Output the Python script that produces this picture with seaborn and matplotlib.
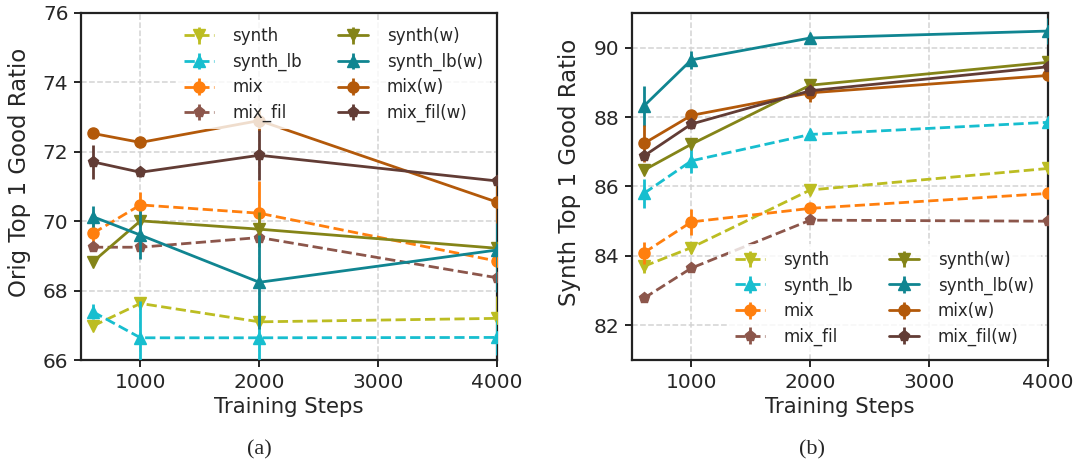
import numpy as np
import pandas as pd
import matplotlib
matplotlib.use("Agg")
import matplotlib.pyplot as plt
import matplotlib.colors as mcolors
import seaborn as sns
from matplotlib.container import ErrorbarContainer
from matplotlib.lines import Line2D
from matplotlib.collections import LineCollection

# ---------------- data ----------------
steps = [600, 1000, 2000, 4000]
series_names = ["synth", "synth_lb", "mix", "mix_fil",
                "synth(w)", "synth_lb(w)", "mix(w)", "mix_fil(w)"]

# (a) Orig Top 1 Good Ratio
orig_synth = [66.98, 67.63, 67.10, 67.20]
orig_synth_lb = [67.39, 66.64, 66.64, 66.65]
orig_mix = [69.65, 70.47, 70.23, 68.85]
orig_mix_fil = [69.25, 69.25, 69.53, 68.37]
orig_synth_w = [68.83, 70.01, 69.77, 69.22]
orig_synth_lb_w = [70.13, 69.60, 68.24, 69.17]
orig_mix_w = [72.53, 72.27, 72.90, 70.55]
orig_mix_fil_w = [71.71, 71.41, 71.90, 71.16]

orig_err_synth = [0.10, 0.15, 0.10, 0.65]
orig_err_synth_lb = [0.22, 1.05, 0.70, 0.50]
orig_err_mix = [0.30, 0.36, 0.92, 0.30]
orig_err_mix_fil = [0.10, 0.10, 0.10, 0.10]
orig_err_synth_w = [0.10, 0.10, 0.50, 0.10]
orig_err_synth_lb_w = [0.30, 0.70, 1.35, 1.20]
orig_err_mix_w = [0.10, 0.10, 0.30, 0.60]
orig_err_mix_fil_w = [0.48, 0.15, 0.72, 0.10]

# (b) Synth Top 1 Good Ratio
syn_synth = [83.70, 84.24, 85.90, 86.52]
syn_synth_lb = [85.80, 86.74, 87.50, 87.85]
syn_mix = [84.09, 84.98, 85.37, 85.80]
syn_mix_fil = [82.78, 83.65, 85.03, 85.00]
syn_synth_w = [86.47, 87.22, 88.92, 89.58]
syn_synth_lb_w = [88.32, 89.65, 90.28, 90.48]
syn_mix_w = [87.24, 88.05, 88.70, 89.20]
syn_mix_fil_w = [86.88, 87.80, 88.76, 89.45]

syn_err_synth = [0.20, 0.15, 0.10, 0.10]
syn_err_synth_lb = [0.42, 0.36, 0.10, 0.10]
syn_err_mix = [0.32, 0.38, 0.10, 0.10]
syn_err_mix_fil = [0.05, 0.05, 0.05, 0.05]
syn_err_synth_w = [0.10, 0.10, 0.10, 0.10]
syn_err_synth_lb_w = [0.59, 0.25, 0.10, 0.38]
syn_err_mix_w = [0.52, 0.10, 0.26, 0.10]
syn_err_mix_fil_w = [0.10, 0.15, 0.10, 0.10]

xticks = [1000, 2000, 3000, 4000]
yticks_a = [66, 68, 70, 72, 74, 76]
yticks_b = [82, 84, 86, 88, 90]

# ---------------- style ----------------
base_colors = ["#bcbd22", "#17becf", "#ff7f0e", "#8c564b"]
def darker(c, f=0.7):
    r, g, b = mcolors.to_rgb(c)
    return (r * f, g * f, b * f)
colors = base_colors + [darker(c) for c in base_colors]
markers = ["v", "^", "o", "p"] * 2
linestyles = ["--"] * 4 + ["-"] * 4

sns.set_theme(style="whitegrid")
plt.rcParams["font.family"] = ["DejaVu Sans"]

LW = 2.0
MS = 8

fig = plt.figure(figsize=(10.82, 4.68), dpi=100)
ax_a = fig.add_axes([81 / 1082, 1 - 360 / 468, 416 / 1082, 347 / 468])
ax_b = fig.add_axes([632 / 1082, 1 - 360 / 468, 416 / 1082, 347 / 468])

panels = [
    (ax_a,
     [orig_synth, orig_synth_lb, orig_mix, orig_mix_fil,
      orig_synth_w, orig_synth_lb_w, orig_mix_w, orig_mix_fil_w],
     [orig_err_synth, orig_err_synth_lb, orig_err_mix, orig_err_mix_fil,
      orig_err_synth_w, orig_err_synth_lb_w, orig_err_mix_w, orig_err_mix_fil_w],
     "Orig Top 1 Good Ratio", (66, 76), yticks_a, "upper right", "(a)", 259, 31),
    (ax_b,
     [syn_synth, syn_synth_lb, syn_mix, syn_mix_fil,
      syn_synth_w, syn_synth_lb_w, syn_mix_w, syn_mix_fil_w],
     [syn_err_synth, syn_err_synth_lb, syn_err_mix, syn_err_mix_fil,
      syn_err_synth_w, syn_err_synth_lb_w, syn_err_mix_w, syn_err_mix_fil_w],
     "Synth Top 1 Good Ratio", (81, 91), yticks_b, "lower right", "(b)", 812, 581),
]

for ax, vals, errs, ylabel, ylim, yticks, legloc, cap, capx, ylx in panels:
    handles = []
    for i, name in enumerate(series_names):
        c = colors[i]
        df = pd.DataFrame({"step": steps, "value": vals[i]})
        sns.lineplot(data=df, x="step", y="value", ax=ax, color=c,
                     marker=markers[i], linestyle=linestyles[i], lw=LW,
                     markersize=MS, markeredgecolor=c, markeredgewidth=1,
                     errorbar=None, legend=False, zorder=3 + i)
        ax.errorbar(steps, vals[i], yerr=errs[i], fmt="none", ecolor=c,
                    elinewidth=LW, capsize=0, zorder=3 + i)
        ln = Line2D([], [], color=c, marker=markers[i], linestyle=linestyles[i],
                    lw=LW, markersize=MS, markeredgecolor=c)
        lc = LineCollection([], colors=[c], linewidths=LW)
        handles.append(ErrorbarContainer((ln, (), (lc,)), has_xerr=False,
                                         has_yerr=True, label=name))
    ax.set_xlim(500, 4000)
    ax.set_ylim(*ylim)
    ax.set_xticks(xticks)
    ax.set_yticks(yticks)
    ax.set_xlabel("Training Steps", fontsize=15.3)
    ax.set_ylabel(ylabel, fontsize=16.5)
    # place the y label where the reference has it (right edge / vertical centre)
    x0 = ax.get_position().x0 * 1082
    w = ax.get_position().width * 1082
    ax.yaxis.set_label_coords((ylx - x0) / w, (360 - 172) / 347)
    ax.tick_params(axis="both", labelsize=14.5, length=5, width=1.2,
                   color="black", bottom=True, left=True, pad=4)
    ax.grid(True, linestyle="--", color="#d3d3d3", linewidth=1.1)
    ax.set_axisbelow(True)
    for sp in ax.spines.values():
        sp.set_color("#222222")
        sp.set_linewidth(1.6)
    leg = ax.legend(handles=handles, labels=series_names, loc=legloc, ncol=2,
                    fontsize=12, frameon=True, framealpha=0.8,
                    handlelength=1.8, handletextpad=1.1, columnspacing=2.2,
                    labelspacing=0.45, borderaxespad=0.45)
    leg.get_frame().set_edgecolor("none")
    leg.set_zorder(20)
    fig.text(capx / 1082, 1 - 450 / 468, cap, ha="center", va="center",
             fontsize=16, family="Liberation Serif")

fig.savefig("out.png", dpi=100)
